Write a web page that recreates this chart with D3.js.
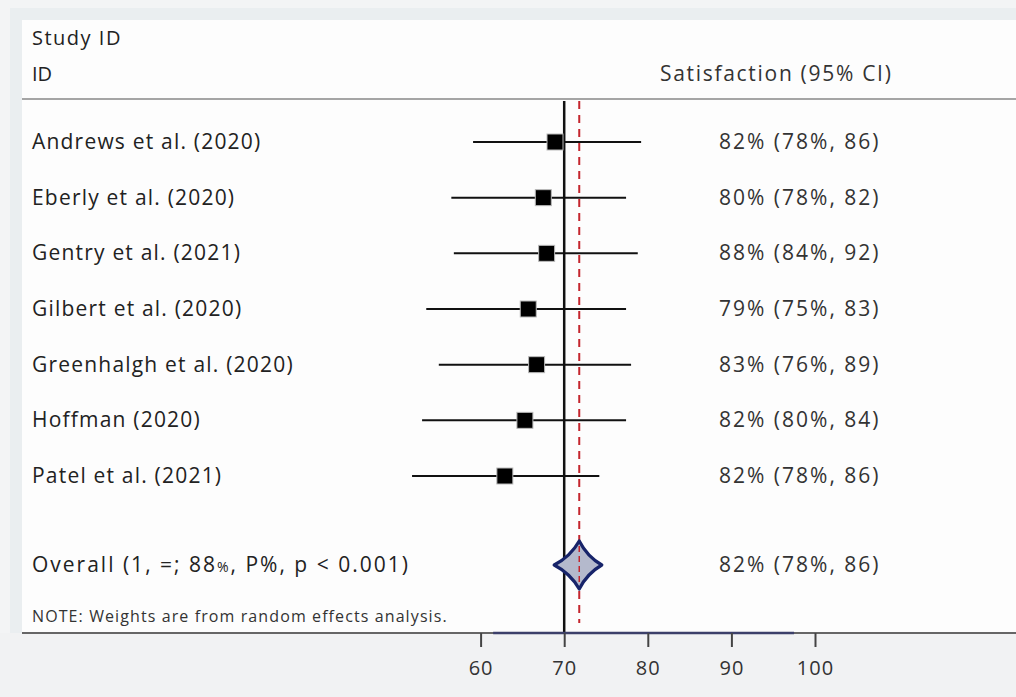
<!DOCTYPE html>
<html>
<head>
<meta charset="utf-8">
<script src="https://cdn.jsdelivr.net/npm/d3@7"></script>
<style>
  html, body { margin: 0; padding: 0; background: #f3f4f5; }
  svg { display: block; }
  text { font-family: "Open Sans", Lato, sans-serif; fill: #222; }
</style>
</head>
<body>
<div id="chart"></div>
<script>
// study rows
const studies = [
  'Andrews et al. (2020)',
  'Eberly et al. (2020)',
  'Gentry et al. (2021)',
  'Gilbert et al. (2020)',
  'Greenhalgh et al. (2020)',
  'Hoffman (2020)',
  'Patel et al. (2021)'
];
const estimates = [68.9, 67.5, 67.9, 65.7, 66.7, 65.3, 62.9];
const lowerCI = [59.1, 56.5, 56.8, 53.5, 55.0, 53.0, 51.8];
const upperCI = [79.2, 77.4, 78.8, 77.4, 78.0, 77.4, 74.2];
const ciLabels = [
  '82% (78%, 86)',
  '80% (78%, 82)',
  '88% (84%, 92)',
  '79% (75%, 83)',
  '83% (76%, 89)',
  '82% (80%, 84)',
  '82% (78%, 86)'
];

// pooled estimate
const overallLabel = 'Overall (1, =; 88';
const overallLabelRest = ', P%, p < 0.001)';
const overall = { est: 71.8, lo: 68.8, hi: 74.5, text: '82% (78%, 86)' };

const nullValue = 70;
const tickValues = [60, 70, 80, 90, 100];
const axisExtent = [61.5, 97.5];

const W = 1016, H = 697;
const svg = d3.select('#chart').append('svg')
  .attr('width', W).attr('height', H);

// background panel
svg.append('rect').attr('x', 0).attr('y', 0).attr('width', W).attr('height', H).attr('fill', '#f3f4f5');
svg.append('rect').attr('x', 10).attr('y', 8).attr('width', W - 10).attr('height', 625).attr('fill', '#eaeef0');
svg.append('rect').attr('x', 22).attr('y', 20).attr('width', W - 22).attr('height', 613).attr('fill', '#fdfdfd');

const x = d3.scaleLinear().domain([60, 100]).range([480.6, 815]);
const y = d3.scalePoint().domain(studies).range([142, 476]);
const yOverall = 565;
const plotTop = 101, axisY = 633;

// header
svg.append('text').attr('x', 32).attr('y', 45).style('font-size', '20px').style('letter-spacing', '1.5px')
  .text('Study ID');
svg.append('text').attr('x', 32).attr('y', 81).style('font-size', '20px').text('ID');
svg.append('text').attr('x', 660).attr('y', 81).style('font-size', '21px').style('letter-spacing', '1.7px')
  .style('fill', '#333').text('Satisfaction (95% CI)');
svg.append('line').attr('x1', 22).attr('x2', W).attr('y1', 99).attr('y2', 99)
  .attr('stroke', '#a5a5a5').attr('stroke-width', 2);

// reference lines
svg.append('line').attr('x1', x(nullValue)).attr('x2', x(nullValue))
  .attr('y1', plotTop).attr('y2', axisY + 14)
  .attr('stroke', '#111').attr('stroke-width', 2.5);
svg.append('line').attr('x1', x(overall.est)).attr('x2', x(overall.est))
  .attr('y1', plotTop).attr('y2', axisY - 10)
  .attr('stroke', '#c4262e').attr('stroke-width', 2).attr('stroke-dasharray', '8,6');

// study rows
const rows = svg.append('g').selectAll('g').data(studies).join('g')
  .attr('transform', d => `translate(0,${y(d)})`);

rows.append('text').attr('x', 32).attr('y', 7).style('font-size', '21px').style('letter-spacing', '1.2px')
  .text(d => d);

rows.append('line')
  .attr('x1', (d, i) => x(lowerCI[i])).attr('x2', (d, i) => x(upperCI[i]))
  .attr('stroke', '#111').attr('stroke-width', 2);

const sq = 16;
rows.append('rect')
  .attr('x', (d, i) => x(estimates[i]) - sq / 2).attr('y', -sq / 2)
  .attr('width', sq).attr('height', sq)
  .attr('fill', '#000').attr('stroke', '#bbb').attr('stroke-width', 1);

rows.append('text').attr('x', 719).attr('y', 7).style('font-size', '21px').style('letter-spacing', '2px')
  .style('fill', '#333').text((d, i) => ciLabels[i]);

// overall row
const ov = svg.append('text').attr('x', 32).attr('y', yOverall + 7).style('font-size', '21px')
  .style('letter-spacing', '2px');
ov.append('tspan').text(overallLabel);
ov.append('tspan').style('font-size', '14px').text('%');
ov.append('tspan').text(overallLabelRest);

const cx = x(overall.est), xl = x(overall.lo), xr = x(overall.hi);
const dh = 24;
const k = 0.3; // how far the sides bend inwards
const diamond = d3.path();
diamond.moveTo(xl, yOverall);
diamond.quadraticCurveTo(((xl + cx) / 2) * (1 - k) + cx * k, (yOverall - dh / 2) * (1 - k) + yOverall * k, cx, yOverall - dh);
diamond.quadraticCurveTo(((xr + cx) / 2) * (1 - k) + cx * k, (yOverall - dh / 2) * (1 - k) + yOverall * k, xr, yOverall);
diamond.quadraticCurveTo(((xr + cx) / 2) * (1 - k) + cx * k, (yOverall + dh / 2) * (1 - k) + yOverall * k, cx, yOverall + dh);
diamond.quadraticCurveTo(((xl + cx) / 2) * (1 - k) + cx * k, (yOverall + dh / 2) * (1 - k) + yOverall * k, xl, yOverall);
diamond.closePath();
svg.append('path').attr('d', diamond.toString())
  .attr('fill', '#b4b9cc').attr('stroke', '#17246a').attr('stroke-width', 3.2)
  .attr('stroke-linejoin', 'round');
svg.append('line').attr('x1', cx).attr('x2', cx).attr('y1', yOverall - dh + 5).attr('y2', yOverall + dh - 5)
  .attr('stroke', '#c4262e').attr('stroke-width', 1.5).attr('stroke-dasharray', '6,4');

svg.append('text').attr('x', 719).attr('y', yOverall + 7).style('font-size', '21px').style('letter-spacing', '2px')
  .style('fill', '#333').text(overall.text);

svg.append('text').attr('x', 32).attr('y', 622).style('font-size', '16px').style('letter-spacing', '1.1px')
  .style('fill', '#333').text('NOTE: Weights are from random effects analysis.');

// x axis
svg.append('rect').attr('x', 0).attr('y', axisY).attr('width', W).attr('height', H - axisY).attr('fill', '#f1f2f3');
svg.append('line').attr('x1', 22).attr('x2', W).attr('y1', axisY).attr('y2', axisY)
  .attr('stroke', '#666').attr('stroke-width', 2);
svg.append('line').attr('x1', x(axisExtent[0])).attr('x2', x(axisExtent[1])).attr('y1', axisY).attr('y2', axisY)
  .attr('stroke', '#3c406a').attr('stroke-width', 2.5);

const axis = svg.append('g').attr('transform', `translate(0,${axisY})`)
  .call(d3.axisBottom(x).tickValues(tickValues).tickSize(14).tickPadding(14));
axis.select('.domain').remove();
axis.selectAll('.tick line').attr('stroke', '#444').attr('stroke-width', 2);
axis.selectAll('.tick text').style('font-size', '20px').style('fill', '#333')
  .style('font-family', '"Open Sans", sans-serif').style('letter-spacing', '1px');
</script>
</body>
</html>
